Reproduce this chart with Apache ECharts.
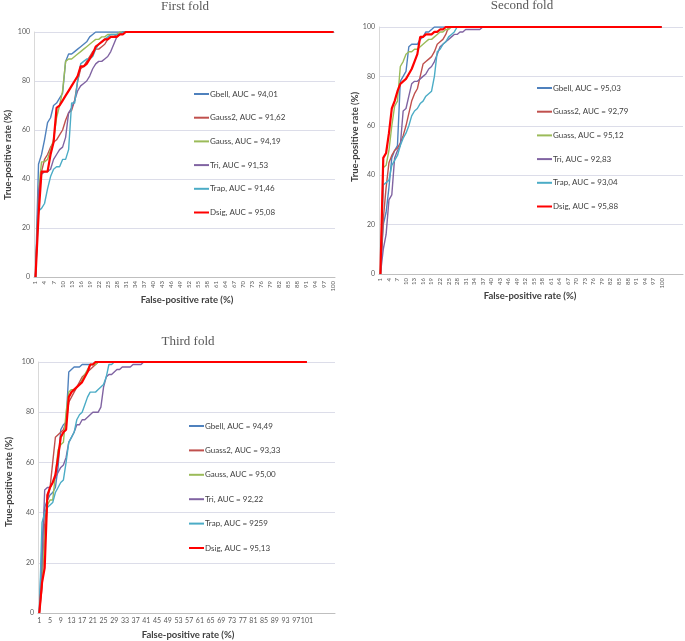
<!DOCTYPE html>
<html>
<head>
<meta charset="utf-8">
<script src="https://cdn.jsdelivr.net/npm/echarts@6/dist/echarts.min.js"></script>
<style>html,body{margin:0;padding:0;background:#fff}#c{width:685px;height:641px}</style>
</head>
<body>
<div id="c"></div>
<script>
// ---- categories (false-positive rate %) ----
const cats1 = Array.from({length:100}, (_, i) => String(i + 1));
const cats2 = Array.from({length:107}, (_, i) => String(i + 1));
const cats3 = Array.from({length:111}, (_, i) => String(i + 1));
const yTicks = [0, 20, 40, 60, 80, 100];

// ---- First fold ----
const f1_names = ['Gbell, AUC = 94,01','Gauss2, AUC = 91,62','Gauss, AUC = 94,19','Tri, AUC = 91,53','Trap, AUC = 91,46','Dsig, AUC = 95,08'];
const f1_gbell = [0,46,50,56,63,65,70,71,73,75,
88,91,91,92,93,94,95,96,98,99,
100,100,100,100,100,100,100,100,100,100,
100,100,100,100,100,100,100,100,100,100,
100,100,100,100,100,100,100,100,100,100,
100,100,100,100,100,100,100,100,100,100,
100,100,100,100,100,100,100,100,100,100,
100,100,100,100,100,100,100,100,100,100,
100,100,100,100,100,100,100,100,100,100,
100,100,100,100,100,100,100,100,100,100];
const f1_gauss2 = [0,30,43,48,50,53,55,56,58,60,
64,67,68,72,80,85,86,88,90,92,
93,93,94,95,97,98,98,99,99,100,
100,100,100,100,100,100,100,100,100,100,
100,100,100,100,100,100,100,100,100,100,
100,100,100,100,100,100,100,100,100,100,
100,100,100,100,100,100,100,100,100,100,
100,100,100,100,100,100,100,100,100,100,
100,100,100,100,100,100,100,100,100,100,
100,100,100,100,100,100,100,100,100,100];
const f1_gauss = [0,35,47,47,48,52,56,65,70,76,
88,89,89,90,91,92,93,94,95,96,
97,97,98,98,99,99,99,99,100,100,
100,100,100,100,100,100,100,100,100,100,
100,100,100,100,100,100,100,100,100,100,
100,100,100,100,100,100,100,100,100,100,
100,100,100,100,100,100,100,100,100,100,
100,100,100,100,100,100,100,100,100,100,
100,100,100,100,100,100,100,100,100,100,
100,100,100,100,100,100,100,100,100,100];
const f1_tri = [0,35,42,43,43,44,48,50,52,53,
57,67,69,72,76,78,79,80,82,85,
87,88,88,89,90,92,95,98,99,100,
100,100,100,100,100,100,100,100,100,100,
100,100,100,100,100,100,100,100,100,100,
100,100,100,100,100,100,100,100,100,100,
100,100,100,100,100,100,100,100,100,100,
100,100,100,100,100,100,100,100,100,100,
100,100,100,100,100,100,100,100,100,100,
100,100,100,100,100,100,100,100,100,100];
const f1_trap = [0,27,28,30,36,41,44,45,45,48,
48,52,71,71,80,87,88,89,89,90,
93,95,96,97,98,99,99,99,99,100,
100,100,100,100,100,100,100,100,100,100,
100,100,100,100,100,100,100,100,100,100,
100,100,100,100,100,100,100,100,100,100,
100,100,100,100,100,100,100,100,100,100,
100,100,100,100,100,100,100,100,100,100,
100,100,100,100,100,100,100,100,100,100,
100,100,100,100,100,100,100,100,100,100];
const f1_dsig = [0,25,43,43,43,50,55,69,70,72,
74,76,78,80,82,86,86,87,89,91,
94,95,96,97,97,98,98,98,99,99,
100,100,100,100,100,100,100,100,100,100,
100,100,100,100,100,100,100,100,100,100,
100,100,100,100,100,100,100,100,100,100,
100,100,100,100,100,100,100,100,100,100,
100,100,100,100,100,100,100,100,100,100,
100,100,100,100,100,100,100,100,100,100,
100,100,100,100,100,100,100,100,100,100];

// ---- Second fold ----
const f2_names = ['Gbell, AUC = 95,03','Guass2, AUC = 92,79','Guass, AUC = 95,12','Tri, AUC = 92,83','Trap, AUC = 93,04','Dsig, AUC = 95,88'];
const f2_gbell = [0,20,25,35,47,50,52,78,80,82,
92,93,93,93,95,96,98,98,99,100,
100,100,100,100,100,100,100,100,100,100,
100,100,100,100,100,100,100,100,100,100,
100,100,100,100,100,100,100,100,100,100,
100,100,100,100,100,100,100,100,100,100,
100,100,100,100,100,100,100,100,100,100,
100,100,100,100,100,100,100,100,100,100,
100,100,100,100,100,100,100,100,100,100,
100,100,100,100,100,100,100,100,100,100];
const f2_gauss2 = [0,22,35,45,48,50,51,53,56,60,
65,70,73,75,80,85,86,87,88,90,
93,94,95,97,100,100,100,100,100,100,
100,100,100,100,100,100,100,100,100,100,
100,100,100,100,100,100,100,100,100,100,
100,100,100,100,100,100,100,100,100,100,
100,100,100,100,100,100,100,100,100,100,
100,100,100,100,100,100,100,100,100,100,
100,100,100,100,100,100,100,100,100,100,
100,100,100,100,100,100,100,100,100,100];
const f2_gauss = [0,43,44,50,60,68,70,84,86,89,
90,90,91,91,92,93,94,95,95,96,
97,98,98,99,99,100,100,100,100,100,
100,100,100,100,100,100,100,100,100,100,
100,100,100,100,100,100,100,100,100,100,
100,100,100,100,100,100,100,100,100,100,
100,100,100,100,100,100,100,100,100,100,
100,100,100,100,100,100,100,100,100,100,
100,100,100,100,100,100,100,100,100,100,
100,100,100,100,100,100,100,100,100,100];
const f2_tri = [0,10,16,30,32,47,50,52,66,67,
72,77,78,78,79,80,81,83,84,86,
89,92,93,94,95,96,97,97,98,98,
99,99,99,99,99,99,100,100,100,100,
100,100,100,100,100,100,100,100,100,100,
100,100,100,100,100,100,100,100,100,100,
100,100,100,100,100,100,100,100,100,100,
100,100,100,100,100,100,100,100,100,100,
100,100,100,100,100,100,100,100,100,100,
100,100,100,100,100,100,100,100,100,100];
const f2_trap = [0,36,37,38,44,46,48,52,55,57,
60,64,66,67,69,70,72,73,74,80,
90,91,93,94,96,97,98,100,100,100,
100,100,100,100,100,100,100,100,100,100,
100,100,100,100,100,100,100,100,100,100,
100,100,100,100,100,100,100,100,100,100,
100,100,100,100,100,100,100,100,100,100,
100,100,100,100,100,100,100,100,100,100,
100,100,100,100,100,100,100,100,100,100,
100,100,100,100,100,100,100,100,100,100];
const f2_dsig = [0,47,49,57,67,70,74,77,78,79,
81,83,86,89,96,96,97,97,97,98,
98,99,99,100,100,100,100,100,100,100,
100,100,100,100,100,100,100,100,100,100,
100,100,100,100,100,100,100,100,100,100,
100,100,100,100,100,100,100,100,100,100,
100,100,100,100,100,100,100,100,100,100,
100,100,100,100,100,100,100,100,100,100,
100,100,100,100,100,100,100,100,100,100,
100,100,100,100,100,100,100,100,100,100];

// ---- Third fold ----
const f3_names = ['Gbell, AUC = 94,49','Guass2, AUC = 93,33','Gauss, AUC = 95,00','Tri, AUC = 92,22','Trap, AUC = 9259','Dsig, AUC = 95,13'];
const f3_gbell = [0,28,42,45,47,48,50,58,73,75,
76,96,97,98,98,98,99,99,99,99,
99,100,100,100,100,100,100,100,100,100,
100,100,100,100,100,100,100,100,100,100,
100,100,100,100,100,100,100,100,100,100,
100,100,100,100,100,100,100,100,100,100,
100,100,100,100,100,100,100,100,100,100,
100,100,100,100,100,100,100,100,100,100,
100,100,100,100,100,100,100,100,100,100,
100,100,100,100,100,100,100,100,100,100,
100];
const f3_gauss2 = [0,10,35,45,50,60,70,71,72,73,
76,84,86,88,90,92,94,95,96,97,
98,99,100,100,100,100,100,100,100,100,
100,100,100,100,100,100,100,100,100,100,
100,100,100,100,100,100,100,100,100,100,
100,100,100,100,100,100,100,100,100,100,
100,100,100,100,100,100,100,100,100,100,
100,100,100,100,100,100,100,100,100,100,
100,100,100,100,100,100,100,100,100,100,
100,100,100,100,100,100,100,100,100,100,
100];
const f3_gauss = [0,15,30,43,45,45,55,65,67,68,
80,88,89,89,90,91,93,95,97,99,
99,99,100,100,100,100,100,100,100,100,
100,100,100,100,100,100,100,100,100,100,
100,100,100,100,100,100,100,100,100,100,
100,100,100,100,100,100,100,100,100,100,
100,100,100,100,100,100,100,100,100,100,
100,100,100,100,100,100,100,100,100,100,
100,100,100,100,100,100,100,100,100,100,
100,100,100,100,100,100,100,100,100,100,
100];
const f3_tri = [0,20,49,50,50,52,54,56,58,59,
62,68,70,72,75,75,77,77,78,79,
80,80,80,82,90,94,95,95,96,97,
97,98,98,98,98,99,99,99,99,100,
100,100,100,100,100,100,100,100,100,100,
100,100,100,100,100,100,100,100,100,100,
100,100,100,100,100,100,100,100,100,100,
100,100,100,100,100,100,100,100,100,100,
100,100,100,100,100,100,100,100,100,100,
100,100,100,100,100,100,100,100,100,100,
100];
const f3_trap = [0,36,40,42,43,44,48,50,52,53,
60,68,70,72,77,79,80,83,86,88,
88,88,89,90,91,94,99,99,100,100,
100,100,100,100,100,100,100,100,100,100,
100,100,100,100,100,100,100,100,100,100,
100,100,100,100,100,100,100,100,100,100,
100,100,100,100,100,100,100,100,100,100,
100,100,100,100,100,100,100,100,100,100,
100,100,100,100,100,100,100,100,100,100,
100,100,100,100,100,100,100,100,100,100,
100];
const f3_dsig = [0,12,18,47,50,52,55,62,70,72,
73,86,88,89,90,91,92,94,96,99,
99,100,100,100,100,100,100,100,100,100,
100,100,100,100,100,100,100,100,100,100,
100,100,100,100,100,100,100,100,100,100,
100,100,100,100,100,100,100,100,100,100,
100,100,100,100,100,100,100,100,100,100,
100,100,100,100,100,100,100,100,100,100,
100,100,100,100,100,100,100,100,100,100,
100,100,100,100,100,100,100,100,100,100,
100];

// ---- styling ----
const colors = ['#4F81BD', '#C0504D', '#9BBB59', '#8064A2', '#4BACC6', '#FF0000'];
const widths = [1.4, 1.4, 1.4, 1.4, 1.4, 2.2];
const FONT = 'Lato, "Open Sans", sans-serif';

const folds = [
  {names: f1_names, data: [f1_gbell, f1_gauss2, f1_gauss, f1_tri, f1_trap, f1_dsig], cats: cats1, last: 100, rotate: 90, interval: 2},
  {names: f2_names, data: [f2_gbell, f2_gauss2, f2_gauss, f2_tri, f2_trap, f2_dsig], cats: cats2, last: 100, rotate: 90, interval: 2},
  {names: f3_names, data: [f3_gbell, f3_gauss2, f3_gauss, f3_tri, f3_trap, f3_dsig], cats: cats3, last: 101, rotate: 0, interval: 3}
];

const grids = [
  {left: 34, top: 32, width: 301, height: 245},
  {left: 379, top: 27, width: 304, height: 247},
  {left: 38, top: 362, width: 297, height: 251}
];
const legendPos = [
  {left: 188, top: 85, itemGap: 15.7},
  {left: 531, top: 79, itemGap: 15.7},
  {left: 183, top: 417, itemGap: 16.4}
];

const xAxes = [], yAxes = [], series = [], legends = [];
folds.forEach((f, gi) => {
  xAxes.push({
    type: 'category', gridIndex: gi, data: f.cats, boundaryGap: true,
    axisLine: {lineStyle: {color: '#bfbfbf', width: 1}},
    axisTick: {show: false},
    axisLabel: {
      interval: f.interval, rotate: f.rotate, fontSize: f.rotate ? 6 : 7, color: '#595959', fontFamily: FONT, margin: 4,
      formatter: v => (Number(v) > f.last ? '' : v)
    },
    splitLine: {show: false}
  });
  yAxes.push({
    type: 'value', gridIndex: gi, min: yTicks[0], max: yTicks[yTicks.length - 1], interval: 20,
    axisLine: {show: true, lineStyle: {color: '#d9d9d9'}},
    axisTick: {show: false},
    axisLabel: {fontSize: 7, color: '#595959', fontFamily: FONT, margin: 4},
    splitLine: {lineStyle: {color: '#dcdde9', width: 1}}
  });
  f.names.forEach((n, si) => {
    series.push({
      name: n, type: 'line', xAxisIndex: gi, yAxisIndex: gi,
      data: f.data[si], symbol: 'none', showSymbol: false, smooth: false,
      lineStyle: {color: colors[si], width: widths[si]},
      itemStyle: {color: colors[si]},
      z: si === 5 ? 5 : 3
    });
  });
  legends.push({
    data: f.names, orient: 'vertical', left: legendPos[gi].left, top: legendPos[gi].top,
    itemGap: legendPos[gi].itemGap, itemWidth: 15, itemHeight: 10,
    itemStyle: {opacity: 0},
    textStyle: {fontSize: 8, color: '#404040', fontFamily: FONT, padding: [0, 0, 0, -4]},
    selectedMode: false
  });
});

const titleStyle = {fontFamily: '"Liberation Serif", serif', fontSize: 13, fill: '#595959', align: 'center', verticalAlign: 'middle'};
const axisNameStyle = {fontFamily: FONT, fontSize: 9.5, fontWeight: 'bold', fill: '#404040', align: 'center', verticalAlign: 'middle'};
const graphics = [
  {type: 'text', x: 185, y: 7, style: Object.assign({text: 'First fold'}, titleStyle)},
  {type: 'text', x: 522, y: 6, style: Object.assign({text: 'Second fold'}, titleStyle)},
  {type: 'text', x: 188, y: 342, style: Object.assign({text: 'Third fold'}, titleStyle)},
  {type: 'text', x: 187, y: 300, style: Object.assign({text: 'False-positive rate (%)'}, axisNameStyle)},
  {type: 'text', x: 530, y: 296, style: Object.assign({text: 'False-positive rate (%)'}, axisNameStyle)},
  {type: 'text', x: 188, y: 635, style: Object.assign({text: 'False-positive rate (%)'}, axisNameStyle)},
  {type: 'text', x: 8, y: 155, rotation: Math.PI / 2, style: Object.assign({text: 'True-positive rate (%)'}, axisNameStyle)},
  {type: 'text', x: 355, y: 137, rotation: Math.PI / 2, style: Object.assign({text: 'True-positive rate (%)'}, axisNameStyle)},
  {type: 'text', x: 9, y: 482, rotation: Math.PI / 2, style: Object.assign({text: 'True-positive rate (%)'}, axisNameStyle)}
];

const chart = echarts.init(document.getElementById('c'), null, {renderer: 'canvas'});
chart.setOption({
  animation: false,
  backgroundColor: '#ffffff',
  grid: grids,
  xAxis: xAxes,
  yAxis: yAxes,
  legend: legends,
  series: series,
  graphic: graphics
});
</script>
</body>
</html>
